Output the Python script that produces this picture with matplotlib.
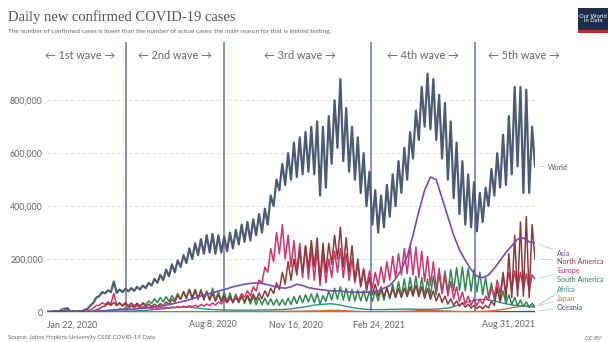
import numpy as np
import pandas as pd
import matplotlib.pyplot as plt

plt.rcParams['font.serif'] = ['Liberation Serif', 'DejaVu Serif']

# values in thousands
# weekly troughs / peaks, starting Jan 22, 2020
world_lo = [0.5, 2, 3, 3, 2, 2, 3, 12, 35, 60, 70, 75,
            72, 75, 78, 80, 85, 90, 100, 110, 120, 135, 150, 170,
            185, 200, 215, 220, 225, 220, 225, 230, 240, 255, 265, 270,
            290, 300, 330, 400, 460, 480, 500, 510, 520, 530, 520, 440,
            470, 560, 620, 570, 530, 500, 450, 400, 330, 300, 320, 360,
            400, 450, 500, 580, 650, 700, 690, 650, 580, 500, 430, 370,
            330, 320, 305, 340, 400, 440, 470, 480, 520, 550, 450, 450]
world_hi = [0.8, 3, 4, 15, 3, 3, 8, 25, 55, 75, 82, 115,
            85, 88, 90, 95, 100, 110, 125, 140, 160, 180, 195, 215,
            240, 260, 275, 290, 295, 290, 285, 300, 310, 330, 340, 350,
            370, 390, 440, 500, 560, 600, 640, 660, 680, 700, 720, 700,
            740, 800, 880, 770, 700, 660, 600, 530, 460, 440, 480, 520,
            570, 620, 680, 760, 850, 900, 880, 820, 790, 720, 640, 570,
            520, 490, 450, 470, 540, 600, 670, 740, 850, 850, 840, 700]
world_end = 550

europe_lo = [0, 0, 0, 0, 0, 0, 0.5, 3, 15, 25, 28, 30,
             25, 22, 20, 17, 15, 14, 13, 13, 14, 15, 16, 17,
             18, 19, 20, 22, 24, 26, 30, 35, 40, 45, 55, 60,
             80, 110, 150, 190, 220, 200, 170, 150, 130, 125, 120, 100,
             110, 130, 150, 130, 120, 110, 100, 95, 90, 100, 110, 120,
             130, 140, 145, 140, 130, 115, 100, 85, 70, 60, 50, 40,
             30, 25, 25, 30, 45, 60, 70, 75, 80, 85, 85, 80]
europe_hi = [0, 0, 0, 0, 0, 0.2, 1.5, 8, 25, 35, 38, 70,
             33, 30, 26, 22, 20, 18, 17, 17, 18, 19, 21, 22,
             24, 26, 28, 30, 34, 38, 45, 52, 60, 70, 80, 95,
             120, 170, 240, 300, 330, 290, 270, 260, 250, 240, 235, 220,
             200, 230, 240, 220, 200, 180, 165, 155, 150, 170, 190, 210,
             220, 240, 250, 245, 230, 210, 190, 165, 140, 115, 95, 75,
             60, 50, 48, 60, 90, 120, 140, 150, 155, 150, 145, 140]
europe_end = 125

namerica_lo = [0, 0, 0, 0, 0, 0, 0, 0.5, 3, 12, 22, 25,
               24, 24, 23, 23, 22, 20, 20, 20, 22, 28, 38, 48,
               55, 55, 52, 48, 45, 42, 40, 38, 36, 38, 40, 42,
               45, 50, 58, 70, 85, 105, 120, 140, 150, 165, 170, 120,
               150, 180, 200, 170, 150, 120, 95, 80, 65, 60, 58, 55,
               55, 55, 58, 60, 58, 52, 48, 42, 36, 30, 25, 22,
               18, 15, 13, 12, 15, 25, 40, 50, 55, 60, 60, 55]
namerica_hi = [0, 0, 0, 0, 0, 0, 0, 1, 8, 20, 32, 36,
               35, 36, 34, 33, 32, 30, 30, 32, 38, 48, 62, 75,
               85, 85, 80, 75, 70, 65, 60, 58, 55, 58, 62, 68,
               72, 80, 90, 110, 150, 190, 200, 230, 250, 270, 280, 260,
               260, 290, 320, 280, 250, 200, 160, 130, 105, 95, 90, 88,
               88, 90, 95, 100, 95, 88, 80, 70, 60, 50, 42, 36,
               30, 25, 22, 25, 40, 90, 150, 220, 290, 340, 360, 330]
namerica_end = 200

samerica_lo = [0, 0, 0, 0, 0, 0, 0, 0, 0.5, 2, 4, 6,
               8, 10, 14, 18, 22, 28, 32, 35, 38, 40, 45, 48,
               50, 48, 48, 45, 45, 42, 40, 38, 35, 35, 32, 30,
               28, 28, 27, 26, 25, 26, 28, 32, 35, 38, 35, 30,
               40, 45, 48, 45, 42, 42, 42, 40, 40, 42, 45, 50,
               55, 58, 60, 62, 60, 58, 62, 65, 70, 75, 80, 82,
               80, 78, 75, 65, 55, 45, 38, 32, 28, 24, 20, 18]
samerica_hi = [0, 0, 0, 0, 0, 0, 0, 0, 1, 3, 6, 9,
               12, 15, 22, 28, 35, 42, 50, 55, 58, 62, 70, 78,
               85, 80, 85, 80, 90, 78, 75, 72, 68, 65, 62, 58,
               55, 52, 50, 48, 48, 52, 58, 62, 65, 68, 70, 62,
               80, 90, 95, 90, 85, 82, 80, 78, 80, 85, 95, 105,
               115, 125, 130, 135, 130, 125, 135, 145, 155, 160, 168, 170,
               165, 160, 150, 130, 110, 95, 80, 65, 55, 45, 38, 32]
samerica_end = 20

# weekly values, smoother series
asia = [1, 3, 3.5, 15, 2, 1.5, 1.5, 2, 3, 4, 5, 7,
        8, 9, 10, 11, 13, 15, 18, 21, 24, 28, 33, 38,
        43, 50, 57, 64, 70, 76, 82, 88, 95, 100, 105, 108,
        110, 108, 103, 97, 92, 90, 95, 105, 100, 92, 88, 85,
        82, 80, 80, 78, 76, 75, 75, 75, 76, 80, 90, 100,
        125, 160, 210, 290, 380, 460, 510, 500, 430, 360, 290, 235,
        195, 160, 135, 130, 140, 165, 195, 225, 250, 275, 280, 265, 260]
africa = [0, 0, 0, 0, 0, 0, 0, 0.1, 0.3, 0.8, 1.2, 1.5,
          2, 2.5, 3, 4, 5, 6, 8, 10, 12, 15, 17, 18,
          19, 17, 15, 12, 10, 9, 8, 7.5, 7, 7, 7, 7,
          7, 7.5, 8, 8.5, 9, 10, 12, 15, 18, 22, 26, 28,
          30, 31, 28, 24, 19, 15, 12, 10, 9, 9, 9, 10,
          10, 11, 11, 11, 10, 10, 10, 11, 13, 15, 20, 28,
          35, 42, 46, 48, 46, 42, 36, 31, 27, 24, 22, 20, 19]
japan = [0, 0, 0, 0, 0, 0, 0, 0, 0.05, 0.2, 0.4, 0.5,
         0.4, 0.2, 0.1, 0.05, 0.05, 0.05, 0.1, 0.1, 0.2, 0.5, 0.8, 1.0,
         1.2, 1.0, 0.8, 0.6, 0.5, 0.5, 0.5, 0.5, 0.5, 0.6, 0.7, 0.9,
         1.2, 1.5, 2.0, 2.3, 2.5, 2.7, 3.0, 3.2, 3.5, 3.8, 4.0, 4.5,
         5.5, 6.0, 6.0, 5.0, 4.0, 3.0, 2.0, 1.5, 1.2, 1.1, 1.2, 1.5,
         2.0, 2.5, 3.0, 4.0, 5.0, 5.5, 6.0, 5.5, 4.5, 3.5, 2.5, 1.8,
         1.5, 1.6, 1.8, 2.5, 3.5, 5.0, 8.0, 12, 16, 20, 23, 22, 20]
oceania = [0, 0, 0, 0, 0, 0, 0, 0.05, 0.2, 0.4, 0.3, 0.1,
           0.05, 0.02, 0.02, 0.02, 0.02, 0.02, 0.02, 0.05, 0.1, 0.2, 0.3, 0.4,
           0.5, 0.6, 0.4, 0.3, 0.2, 0.1, 0.05, 0.05, 0.05, 0.05, 0.05, 0.05,
           0.05, 0.05, 0.05, 0.05, 0.05, 0.05, 0.05, 0.05, 0.05, 0.05, 0.05, 0.05,
           0.05, 0.05, 0.05, 0.05, 0.05, 0.05, 0.05, 0.05, 0.05, 0.05, 0.05, 0.05,
           0.05, 0.05, 0.05, 0.05, 0.05, 0.05, 0.05, 0.05, 0.05, 0.05, 0.05, 0.1,
           0.1, 0.2, 0.3, 0.4, 0.5, 0.6, 0.8, 1.0, 1.2, 1.4, 1.6, 1.8, 2.0]

start = pd.Timestamp('2020-01-22')
end = pd.Timestamp('2021-08-31')
wave_dates = ['2020-04-26', '2020-08-22', '2021-02-15', '2021-06-20']
wave_labels = ['← 1st wave →', '← 2nd wave →', '← 3rd wave →',
               '← 4th wave →', '← 5th wave →']
wave_label_dates = ['2020-03-02', '2020-06-24', '2020-11-21',
                    '2021-04-18', '2021-08-18']
tick_dates = ['2020-01-22', '2020-08-08', '2020-11-16', '2021-02-24', '2021-08-31']
tick_labels = ['Jan 22, 2020', 'Aug 8, 2020', 'Nov 16, 2020',
               'Feb 24, 2021', 'Aug 31, 2021']


def days(d):
    return (pd.Timestamp(d) - start).days


span = (end - start).days


def zigzag(lo, hi, last):
    y = list(np.column_stack((lo, hi)).ravel()) + [last]
    x = np.linspace(0, span, len(y))
    return x, np.array(y) * 1000


def weekly(v):
    x = np.linspace(0, span, len(v))
    return x, np.array(v) * 1000


fig = plt.figure(figsize=(6.08, 3.42), dpi=100)
ax = fig.add_axes([47 / 608, 30 / 342, 488 / 608, 270 / 342])

grey = '#666666'
series = [
    ('Oceania', weekly(oceania), '#3b4a8c', 1.0),
    ('Japan', weekly(japan), '#e0682c', 1.0),
    ('Africa', weekly(africa), '#2a9090', 1.0),
    ('South America', zigzag(samerica_lo, samerica_hi, samerica_end), '#2e8b4f', 1.1),
    ('Europe', zigzag(europe_lo, europe_hi, europe_end), '#d6336c', 1.1),
    ('North America', zigzag(namerica_lo, namerica_hi, namerica_end), '#8e3a3a', 1.1),
    ('Asia', weekly(asia), '#7a4ab8', 1.2),
    ('World', zigzag(world_lo, world_hi, world_end), '#4d5b75', 1.6),
]
for name, (x, y), c, lw in series:
    ax.plot(x, y, color=c, lw=lw, zorder=3)

for d in wave_dates:
    ax.axvline(days(d), color='#8088bb', lw=1.3, zorder=2)
for d, t in zip(wave_label_dates, wave_labels):
    ax.text(days(d), 970000, t, ha='center', va='center', fontsize=7.8,
            color=grey, family=['Lato', 'DejaVu Sans'])

ax.set_xlim(0, span)
ax.set_ylim(0, 1020000)
ax.set_yticks([0, 200000, 400000, 600000, 800000])
ax.set_yticklabels(['0', '200,000', '400,000', '600,000', '800,000'])
ax.set_xticks([days(d) for d in tick_dates])
ax.set_xticklabels(tick_labels)
xt = ax.get_xticklabels()
xt[0].set_ha('left')
xt[-1].set_ha('right')
ax.tick_params(length=0, labelsize=6.4, labelcolor=grey, pad=3)
for lab in ax.get_xticklabels() + ax.get_yticklabels():
    lab.set_family('Lato')
ax.tick_params(axis='x', pad=6)
ax.grid(axis='y', color='#dddddd', lw=0.6, ls=(0, (4, 3)))
for s in ['top', 'right', 'left']:
    ax.spines[s].set_visible(False)
ax.spines['bottom'].set_color('#cccccc')
ax.spines['bottom'].set_linewidth(0.6)

# line labels on the right
label_y = {'World': 167, 'Asia': 253, 'North America': 261, 'Europe': 271,
           'South America': 279, 'Africa': 289, 'Japan': 298, 'Oceania': 307}
for name, (x, y), c, lw in series:
    ly = label_y[name]
    lx = 548 if name == 'World' else 557
    ax.annotate(name, xy=(x[-1], y[-1]), xycoords='data',
                xytext=(lx, 342 - ly), textcoords='figure pixels',
                fontsize=5.2, color=c, va='center', ha='left', family='Lato',
                arrowprops=dict(arrowstyle='-', color='#cccccc', lw=0.6,
                                shrinkA=1, shrinkB=3), annotation_clip=False)

fig.text(8 / 608, 1 - 17 / 342, 'Daily new confirmed COVID-19 cases',
         fontsize=10.5, color='#555555', family='serif', va='center')
fig.text(8 / 608, 1 - 31 / 342,
         'The number of confirmed cases is lower than the number of actual cases; '
         'the main reason for that is limited testing.',
         fontsize=4.6, color=grey, family='Lato', va='center')
fig.text(8 / 608, 1 - 338 / 342,
         'Source: Johns Hopkins University CSSE COVID-19 Data',
         fontsize=4.3, color=grey, family='Lato', va='center')
fig.text(602 / 608, 1 - 338 / 342, 'CC BY', fontsize=4.3, color=grey,
         family='Lato', va='center', ha='right')

# logo
logo = fig.add_axes([578 / 608, 1 - 33 / 342, 30 / 608, 25 / 342])
logo.set_xlim(0, 1)
logo.set_ylim(0, 1)
logo.axis('off')
logo.add_patch(plt.Rectangle((0, 0.1), 1, 0.9, color='#1d2d50'))
logo.add_patch(plt.Rectangle((0, 0), 1, 0.12, color='#ce261e'))
logo.text(0.5, 0.58, 'Our World\nin Data', color='white', fontsize=4.2,
          ha='center', va='center', family='Lato', linespacing=1.0)

fig.savefig('out.png', dpi=100)
